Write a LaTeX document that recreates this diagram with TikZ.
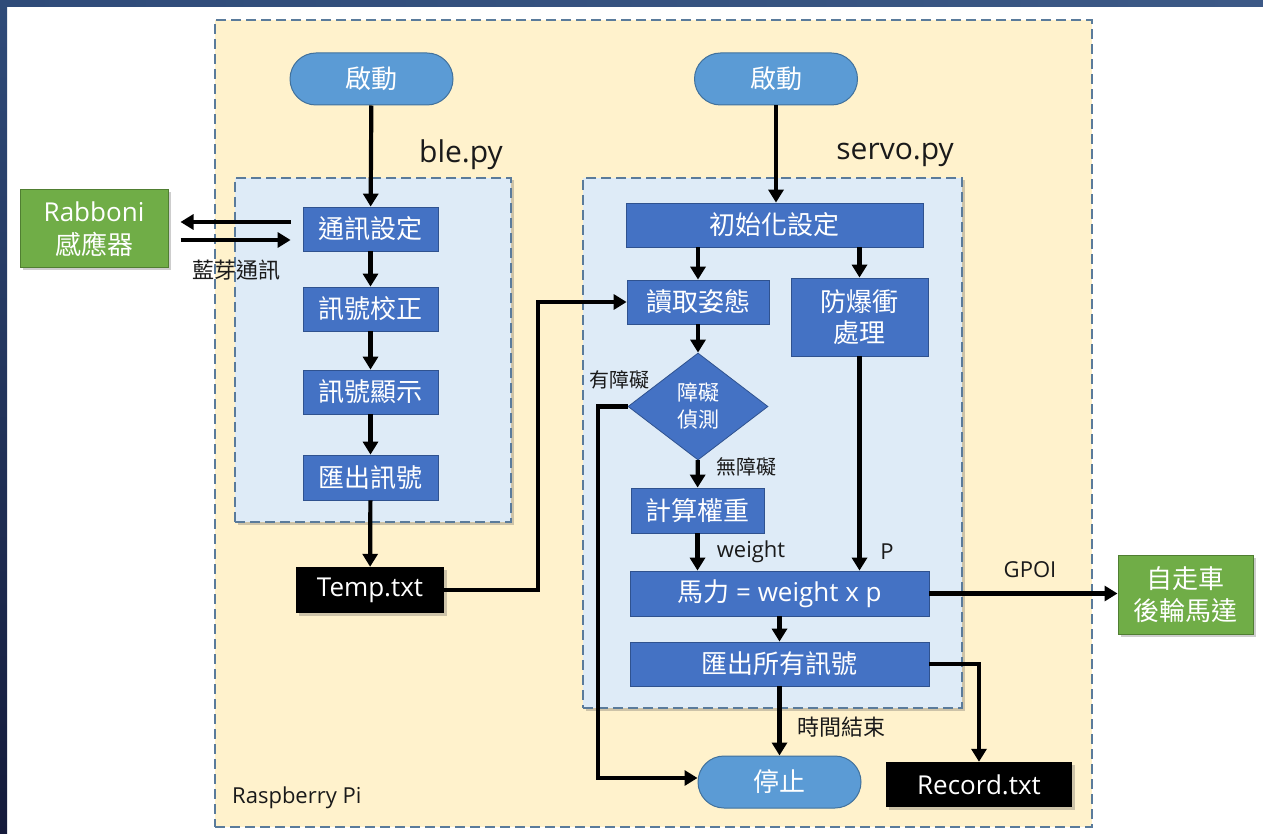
\documentclass[tikz,border=0pt]{standalone}
\usepackage{fontspec}
\setmainfont{Open Sans}
\newfontfamily\cjk{Noto Sans CJK TC}
\usetikzlibrary{arrows.meta,shapes.geometric,shadows}

\definecolor{bandtop}{HTML}{2F4B79}
\definecolor{bandbot}{HTML}{141A3A}
\definecolor{bandright}{HTML}{3C5986}
\definecolor{piyellow}{HTML}{FFF2CC}
\definecolor{modblue}{HTML}{DEEBF7}
\definecolor{dashcol}{HTML}{5A7B9B}
\definecolor{procfill}{HTML}{4472C4}
\definecolor{procline}{HTML}{2F528F}
\definecolor{pillfill}{HTML}{5B9BD5}
\definecolor{pillline}{HTML}{41719C}
\definecolor{devfill}{HTML}{70AD47}
\definecolor{devline}{HTML}{507E32}
\definecolor{labelcol}{HTML}{1A1A1A}

\newcommand\fsz[2]{\fontsize{#1}{#2}\selectfont}

\begin{document}
\begin{tikzpicture}[x=1pt,y=-1pt,
  softshadow/.style={drop shadow={shadow xshift=2.5pt,shadow yshift=-2.5pt,opacity=0.28,fill=black!70}},
  dashbox/.style={draw=dashcol,line width=1.8pt,dash pattern=on 10pt off 5pt,inner sep=0pt},
  proc/.style={draw=procline,line width=0.8pt,fill=procfill,text=white,inner sep=0pt,
    font=\cjk\fsz{26}{31}},
  pill/.style={draw=pillline,line width=1pt,fill=pillfill,text=white,inner sep=0pt,
    rounded corners=26pt,minimum width=163pt,minimum height=52pt,font=\cjk\fsz{26}{31}},
  device/.style={draw=devline,line width=1pt,fill=devfill,text=white,inner sep=0pt,
    align=center,softshadow},
  filebox/.style={fill=black,text=white,inner sep=0pt,softshadow,font=\fsz{26}{31}},
  decision/.style={diamond,draw=procline,line width=0.8pt,fill=procfill,text=white,
    inner sep=0pt,aspect=1.31,align=center,font=\cjk\fsz{21}{27}},
  arr/.style={line width=4.2pt,-{Triangle[length=13pt,width=15pt]}},
  lbl/.style={text=labelcol,inner sep=0pt}
]
\useasboundingbox (0,0) rectangle (1263,834);

% page background with the dark frame bands
\fill[white] (0,0) rectangle (1263,834);
\shade[top color=bandtop,bottom color=bandbot] (0,0) rectangle (7,834);
\shade[left color=bandtop,right color=bandright] (0,0) rectangle (1263,7);

% Raspberry Pi enclosure
\node[dashbox,fill=piyellow,minimum width=877pt,minimum height=807pt] (rpi) at (653.5,423.5) {};
\node[lbl,anchor=west,font=\fsz{22}{26}] (rpilbl) at (232,798) {Raspberry Pi};

% program modules
\node[dashbox,fill=modblue,softshadow,minimum width=276pt,minimum height=344pt] (ble) at (373,350) {};
\node[lbl,anchor=east,font=\fsz{30}{34}] (blelbl) at (503,155) {ble.py};
\node[dashbox,fill=modblue,softshadow,minimum width=379pt,minimum height=530pt] (servo) at (772.5,443) {};
\node[lbl,anchor=east,font=\fsz{30}{34}] (servolbl) at (954,155) {servo.py};

% ble.py flow
\node[pill] (startL) at (371.5,79) {啟動};
\node[proc,minimum width=135pt,minimum height=44pt] (s1) at (370.5,229) {通訊設定};
\node[proc,minimum width=135pt,minimum height=44pt] (s2) at (370.5,309) {訊號校正};
\node[proc,minimum width=135pt,minimum height=44pt] (s3) at (370.5,392) {訊號顯示};
\node[proc,minimum width=135pt,minimum height=45pt] (s4) at (370.5,477.5) {匯出訊號};
\node[filebox,minimum width=148pt,minimum height=46pt] (temp) at (370,590) {Temp.txt};

% sensor
\node[device,minimum width=148pt,minimum height=78pt,font=\fsz{26}{33}] (rab) at (94,229)
  {Rabboni\\{\cjk 感應器}};

% servo.py flow
\node[pill] (startR) at (776,79) {啟動};
\node[proc,minimum width=297pt,minimum height=44pt] (init) at (774.5,225) {初始化設定};
\node[proc,minimum width=142pt,minimum height=44pt] (read) at (698,302) {讀取姿態};
\node[proc,minimum width=137pt,minimum height=78pt,align=center] (anti) at (859.5,317)
  {防爆衝\\處理};
\node[decision,minimum width=140pt,minimum height=107pt] (diam) at (698,406.5) {障礙\\偵測};
\node[proc,minimum width=133pt,minimum height=45pt] (calc) at (697.5,510.5) {計算權重};
\node[proc,minimum width=299pt,minimum height=45pt,font=\fsz{26}{31}] (power) at (779.5,593.5)
  {{\cjk 馬力} = weight x p};
\node[proc,minimum width=299pt,minimum height=44pt] (expall) at (779.5,664) {匯出所有訊號};
\node[pill] (stop) at (779.5,782) {停止};
\node[filebox,minimum width=186pt,minimum height=45pt] (record) at (979,784.5) {Record.txt};

% motor
\node[device,minimum width=135pt,minimum height=79pt,font=\cjk\fsz{26}{32}] (motor) at (1185.5,594.5)
  {自走車\\後輪馬達};

% connectors: ble.py
\draw[arr] (startL) -- (s1);
\draw[arr] (s1) -- (s2);
\draw[arr] (s2) -- (s3);
\draw[arr] (s3) -- (s4);
\draw[arr] (s4) -- (temp);
\draw[arr,shorten <=12pt,shorten >=12pt] ([yshift=7pt]s1.west) -- ([yshift=7pt]s1.west -| rab.east);
\draw[arr,shorten <=12pt,shorten >=12pt] ([yshift=-11pt]s1.west -| rab.east) -- ([yshift=-11pt]s1.west);
\node[lbl,font=\cjk\fsz{22}{26}] (bt) at (236,270) {藍芽通訊};

% connectors: data file into servo.py
\draw[arr] (temp.east) -- ++(94,0) |- (read.west);

% connectors: servo.py
\draw[arr] (startR) -- (startR |- init.north);
\draw[arr] (init.south -| read.north) -- (read.north);
\draw[arr] (init.south -| anti.north) -- (anti.north);
\draw[arr] (read) -- (diam);
\draw[arr] (diam) -- (calc);
\draw[arr] (calc.south) -- (calc.south |- power.north);
\draw[arr] (anti.south) -- (anti.south |- power.north);
\draw[arr] (power.east) -- (power.east -| motor.west);
\draw[arr] (power.south) -- (expall.north);
\draw[arr] (expall.south) -- (stop.north);
\draw[arr] (expall.east) -| (record.north);
\draw[arr] (diam.west) -- ++(-30,0) |- ([yshift=4pt]stop.west);

% branch labels
\node[lbl,font=\cjk\fsz{20}{24}] (yes) at (619,380) {有障礙};
\node[lbl,font=\cjk\fsz{20}{24}] (no) at (746,467) {無障礙};
\node[lbl,font=\fsz{22}{26}] (wlbl) at (751,552) {weight};
\node[lbl,font=\fsz{22}{26}] (plbl) at (887,552) {P};
\node[lbl,font=\fsz{22}{26}] (gpoi) at (1030,570) {GPOI};
\node[lbl,font=\cjk\fsz{22}{26}] (tend) at (841,727) {時間結束};
\end{tikzpicture}
\end{document}
